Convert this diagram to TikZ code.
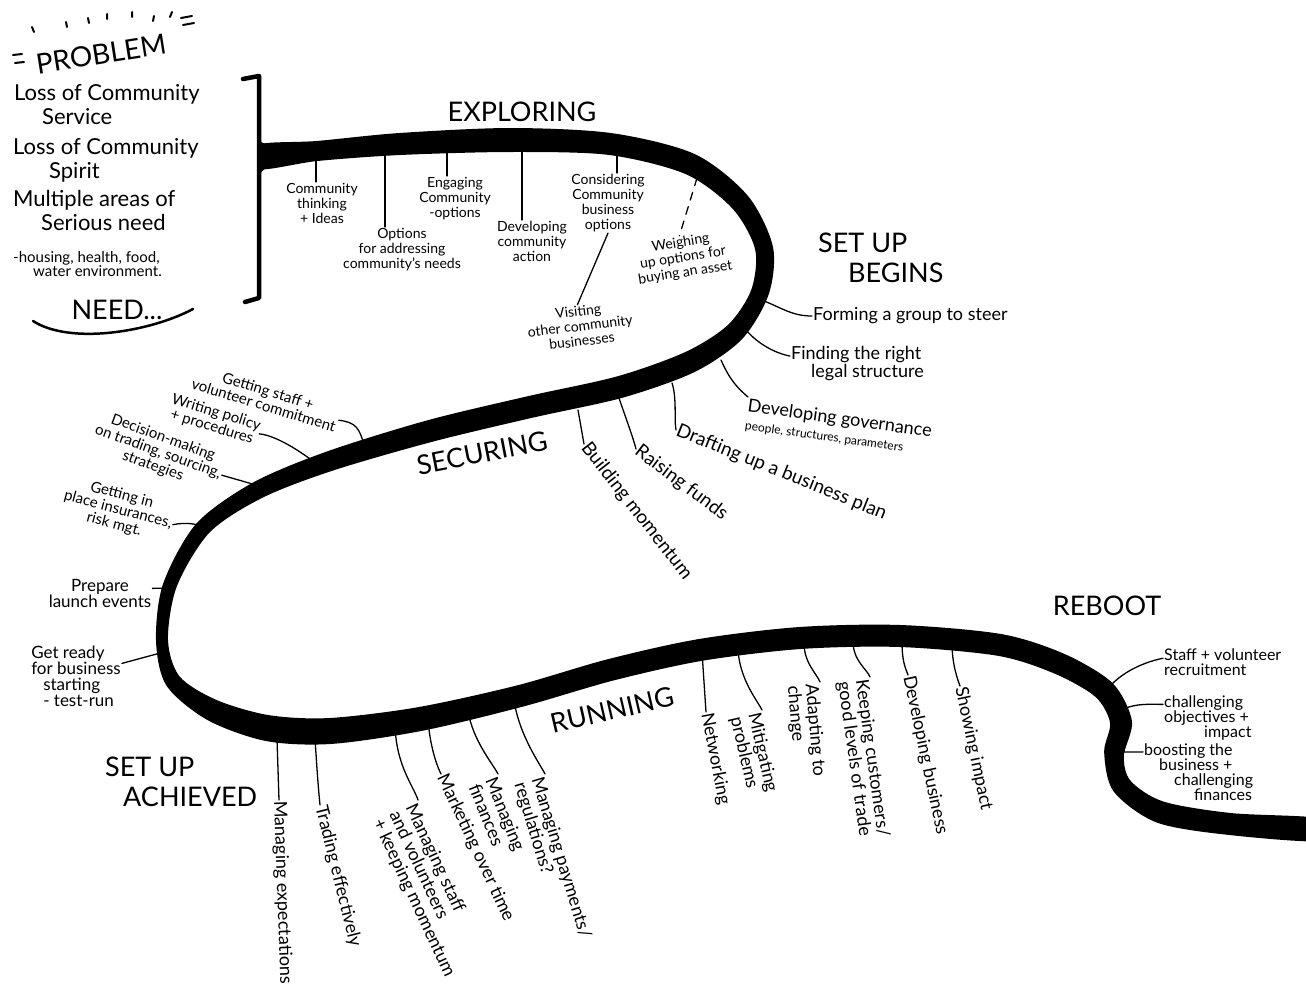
\documentclass[tikz,border=0pt]{standalone}
\usepackage{fontspec}
\setmainfont{Lato}
\usetikzlibrary{calc}
\begin{document}
\begin{tikzpicture}[x=1pt,y=-1pt,
  every node/.style={inner sep=1pt},
  head/.style={font=\fontsize{27}{30}\selectfont},
  prob/.style={font=\fontsize{22}{24}\selectfont, align=left, anchor=north west},
  xl/.style={font=\fontsize{14}{15}\selectfont, align=center},
  bl/.style={font=\fontsize{18}{18}\selectfont, align=left},
  sl/.style={font=\fontsize{15}{15}\selectfont, align=center},
  rl/.style={font=\fontsize{16}{15}\selectfont, align=left},
  conn/.style={line width=1.3pt, line cap=round},
  deco/.style={line width=2pt, line cap=round}]

\fill[white] (0,0) rectangle (1306,1001);
\useasboundingbox (0,0) rectangle (1306,1001);

% ---------- the thick band ----------
\foreach \i/\x/\y/\t/\h in {
  1/258/157/-4/12, 2/317/151/-3/10, 3/400/144/-3/11, 4/510/140/0/12,
  5/610/144/8/11, 6/690/164/24/11, 7/740/202/50/10, 8/764/248/82/9,
  9/760/292/105/9, 10/735/332/135/10, 11/690/362/155/11, 12/620/387/165/11,
  13/530/407/167/11, 14/430/431/165/11, 15/330/461/160/10, 16/258/490/145/9,
  17/203/528/122/8, 18/170/585/100/7, 19/162/640/86/6, 20/173/681/55/8,
  21/212/710/25/11, 22/267/728/7/13, 23/330/731/-4/13, 24/420/719/-13/12,
  25/520/696/-16/11, 26/610/670/-16/11, 27/700/650/-10/11, 28/800/638/-4/11,
  29/900/636/1/11, 30/1000/645/10/11, 31/1060/664/28/11, 32/1104/690/52/11,
  33/1121/722/85/11, 34/1114/754/100/10, 35/1122/786/58/10, 36/1160/812/18/11,
  37/1230/824/6/11, 38/1325/830/3/11}{
  \coordinate (A\i) at ({\x-\h*sin(\t)},{\y+\h*cos(\t)});
  \coordinate (B\i) at ({\x+\h*sin(\t)},{\y-\h*cos(\t)});
}
\begin{scope}
\clip (259,0) -- (1340,0) -- (1340,1001) -- (0,1001) -- (0,240) -- (259,240) -- cycle;
\fill[black] plot[smooth cycle, tension=0.5] coordinates {
  (A1) (A2) (A3) (A4) (A5) (A6) (A7) (A8) (A9) (A10) (A11) (A12) (A13)
  (A14) (A15) (A16) (A17) (A18) (A19) (A20) (A21) (A22) (A23) (A24) (A25)
  (A26) (A27) (A28) (A29) (A30) (A31) (A32) (A33) (A34) (A35) (A36) (A37) (A38)
  (B38) (B37) (B36) (B35) (B34) (B33) (B32) (B31) (B30) (B29) (B28) (B27)
  (B26) (B25) (B24) (B23) (B22) (B21) (B20) (B19) (B18) (B17) (B16) (B15)
  (B14) (B13) (B12) (B11) (B10) (B9) (B8) (B7) (B6) (B5) (B4) (B3) (B2) (B1)};
\end{scope}
% flare where the band meets the bracket
\fill[black] (258,138) .. controls (262,145) and (268,146) .. (290,144) -- (290,161)
  .. controls (270,164) and (262,168) .. (258,178) -- cycle;

% ---------- problem ----------
\node[head, rotate=9, font=\fontsize{28}{30}\selectfont] (problem) at (101,54) {PROBLEM};
\draw[deco] (13,55) -- (22,54) (15,63) -- (24,62);
\draw[deco] (181,18) -- (192,16) (183,25) -- (194,23);
\draw[deco] (32,27) -- (34,32) (66,22) -- (67,27) (88,18) -- (89,23)
  (107,14) -- (107,19) (132,12) -- (132,17) (154,16) -- (153,21) (172,12) -- (170,17);
\node[prob] (p1) at (13,83) {Loss of Community\\ \hspace*{28pt}Service};
\node[prob] (p2) at (12,137) {Loss of Community\\ \hspace*{36pt}Spirit};
\node[prob] (p3) at (12,189) {Multiple areas of\\ \hspace*{28pt}Serious need};
\node[prob, font=\fontsize{15}{14}\selectfont] (p4) at (12,250) {-housing, health, food,\\ \hspace*{20pt}water environment.};
\node[head] (need) at (117,310) {NEED...};
\draw[line width=2.5pt, line cap=round] (33,321) .. controls (70,345) and (150,332) .. (193,309);
\draw[line width=4.5pt, line cap=round, line join=round] (243,79) -- (259,76) -- (259,298) -- (245,302);

% ---------- exploring ----------
\node[head] (explore) at (522,112) {EXPLORING};
\coordinate (e1) at (316,158);
\coordinate (e2) at (385,152);
\coordinate (e3) at (447,148);
\coordinate (e4) at (522,148);
\coordinate (e5) at (617,152);
\coordinate (e6) at (697,178);
\node[xl, anchor=north] (ct) at (322,182) {Community\\thinking\\+ Ideas};
\node[xl, anchor=north] (opt) at (402,227) {Options\\for addressing\\community's needs};
\node[xl, anchor=north] (eng) at (455,176) {Engaging\\Community\\-options};
\node[xl, anchor=north] (dev) at (532,220) {Developing\\community\\action};
\node[xl, anchor=north] (con) at (608,173) {Considering\\Community\\business\\options};
\node[xl, rotate=9] (wei) at (683,258) {Weighing\\up options for\\buying an asset};
\node[xl, rotate=7] (vis) at (580,326) {Visiting\\other community\\businesses};
\draw[conn] (e1) -- (e1 |- ct.north);
\draw[conn] (e2) -- (e2 |- opt.north);
\draw[conn] (e3) -- (e3 |- eng.north);
\draw[conn] (e4) -- (e4 |- dev.north);
\draw[conn] (e5) -- (e5 |- con.north);
\draw[conn, dash pattern=on 8pt off 7pt] (e6) -- (wei.north);
\draw[conn] (con.south) -- (vis.north);

% ---------- set up begins ----------
\node[head, align=left, anchor=north west] (sub) at (817,232) {SET UP\\ \hspace*{30pt}BEGINS};
\coordinate (s1) at (764,301);
\coordinate (s2) at (746,330);
\coordinate (s3) at (721,360);
\coordinate (s4) at (672,383);
\coordinate (s5) at (619,398);
\coordinate (s6) at (578,410);
\node[bl, anchor=west] (form) at (812,316) {Forming a group to steer};
\node[bl, anchor=north west] (find) at (790,345) {Finding the right\\ \hspace*{20pt}legal structure};
\node[bl, anchor=north west, rotate=-8] (gov) at (748,397) {Developing governance\\{\fontsize{12}{12}\selectfont people, structures, parameters}};
\node[bl, anchor=west, rotate=-22, font=\fontsize{19}{19}\selectfont] (draft) at (676,430) {Drafting up a business plan};
\node[bl, anchor=west, rotate=-37, font=\fontsize{19}{19}\selectfont] (raise) at (636,449) {Raising funds};
\node[bl, anchor=west, rotate=-52, font=\fontsize{19}{19}\selectfont] (build) at (584,444) {Building momentum};
\draw[conn] (s1) .. controls +(18,7) and +(-20,0) .. (form.west);
\draw[conn] (s2) .. controls +(12,14) and +(-15,-3) .. ($(find.north west)!0.3!(find.south west)$);
\draw[conn] (s3) .. controls +(8,18) and +(-12,-10) .. (gov.north west);
\draw[conn] (s4) .. controls +(5,15) and +(-2,-10) .. (draft.west);
\draw[conn] (s5) .. controls +(5,15) and +(-3,-12) .. (raise.west);
\draw[conn] (s6) -- (build.west);

% ---------- securing ----------
\node[head, rotate=11] (secur) at (482,453) {SECURING};
\coordinate (c1) at (364,444);
\coordinate (c2) at (318,465);
\coordinate (c3) at (270,489);
\coordinate (c4) at (210,530);
\coordinate (c5) at (169,588);
\coordinate (c6) at (164,652);
\node[sl, rotate=-17] (gs) at (266,398) {Getting staff +\\volunteer commitment};
\node[sl, rotate=-17] (wp) at (214,420) {Writing policy\\+ procedures};
\node[sl, rotate=-20] (dm) at (158,452) {Decision-making\\on trading, sourcing,\\strategies};
\node[sl, rotate=-15] (gi) at (118,510) {Getting in\\place insurances,\\risk mgt.};
\node[sl, font=\fontsize{17}{16}\selectfont] (pl) at (100,593) {Prepare\\launch events};
\node[sl, font=\fontsize{17}{16}\selectfont, align=left] (gr) at (76,676) {Get ready\\for business\\ \hspace*{12pt}starting\\ \hspace*{12pt}- test-run};
\draw[conn] (gs.east) .. controls +(18,2) and +(-5,-15) .. (c1);
\draw[conn] (wp.east) .. controls +(20,2) and +(-10,-8) .. (c2);
\draw[conn] (dm.east) -- (c3);
\draw[conn] (gi.east) .. controls +(15,-3) and +(-10,-6) .. (c4);
\draw[conn] ($(pl.north east)!0.35!(pl.south east)$) -- (c5);
\draw[conn] ($(gr.north east)!0.3!(gr.south east)$) -- (c6);

% ---------- running ----------
\node[head, align=left, anchor=north west] (sua) at (104,756) {SET UP\\ \hspace*{18pt}ACHIEVED};
\node[head, rotate=13] (run) at (612,710) {RUNNING};
\coordinate (u1) at (277,739);
\coordinate (u2) at (315,739);
\coordinate (u3) at (395,727);
\coordinate (u4) at (428,720);
\coordinate (u5) at (468,711);
\coordinate (u6) at (514,700);
\coordinate (u7) at (702,652);
\coordinate (u8) at (738,650);
\coordinate (u9) at (804,643);
\coordinate (u10) at (853,641);
\coordinate (u11) at (902,641);
\coordinate (u12) at (952,643);
\node[bl, rotate=-88, anchor=west] (me) at (279,800) {Managing expectations};
\node[bl, rotate=-76, anchor=west] (te) at (320,805) {Trading effectively};
\node[bl, rotate=-65, anchor=north west] (ms) at (418,800) {Managing staff\\and volunteers\\+ keeping momentum};
\node[bl, rotate=-65, anchor=west] (mk) at (441,774) {Marketing over time};
\node[bl, rotate=-68, anchor=north west] (mf) at (498,774) {Managing\\finances};
\node[bl, rotate=-73, anchor=north west] (mp) at (545,774) {Managing payments/\\regulations?};
\node[bl, rotate=-79, anchor=west] (nw) at (706,712) {Networking};
\node[bl, rotate=-77, anchor=north west] (mi) at (762,710) {Mitigating\\problems};
\node[bl, rotate=-85, anchor=north west] (ad) at (820,682) {Adapting to\\change};
\node[bl, rotate=-82, anchor=north west] (kc) at (870,677) {Keeping customers/\\good levels of trade};
\node[bl, rotate=-78, anchor=west] (db) at (908,675) {Developing business};
\node[bl, rotate=-78, anchor=west] (si) at (960,686) {Showing impact};
\draw[conn] (u1) -- (me.west);
\draw[conn] (u2) .. controls +(2,30) and +(-2,-20) .. (te.west);
\draw[conn] (u3) .. controls +(2,40) and +(-5,-15) .. (ms.north west);
\draw[conn] (u4) .. controls +(2,25) and +(-5,-10) .. (mk.west);
\draw[conn] (u5) .. controls +(5,30) and +(-5,-10) .. (mf.north west);
\draw[conn] (u6) .. controls +(5,35) and +(-5,-10) .. (mp.north west);
\draw[conn] (u7) -- (nw.west);
\draw[conn] (u8) .. controls +(2,30) and +(-5,-10) .. (mi.north west);
\draw[conn] (u9) .. controls +(0,20) and +(-3,-8) .. (ad.north west);
\draw[conn] (u10) .. controls +(0,20) and +(-3,-8) .. (kc.north west);
\draw[conn] (u11) .. controls +(0,20) and +(-3,-8) .. (db.west);
\draw[conn] (u12) .. controls +(0,20) and +(-3,-8) .. (si.west);

% ---------- reboot ----------
\node[head] (reboot) at (1107,606) {REBOOT};
\coordinate (r1) at (1112,684);
\coordinate (r2) at (1124,709);
\coordinate (r3) at (1118,752);
\node[rl, anchor=north west] (sv) at (1163,648) {Staff + volunteer\\recruitment};
\node[rl, anchor=north west] (ch) at (1163,695) {challenging\\objectives +\\ \hspace*{40pt}impact};
\node[rl, anchor=north west] (bo) at (1143,743) {boosting the\\ \hspace*{15pt}business +\\ \hspace*{30pt}challenging\\ \hspace*{50pt}finances};
\draw[conn] (r1) .. controls +(15,-15) and +(-15,3) .. ($(sv.north west)!0.35!(sv.south west)$);
\draw[conn] (r2) .. controls +(12,-6) and +(-10,0) .. ($(ch.north west)!0.2!(ch.south west)$);
\draw[conn] (r3) -- ($(bo.north west)!0.15!(bo.south west)$);
\end{tikzpicture}
\end{document}
